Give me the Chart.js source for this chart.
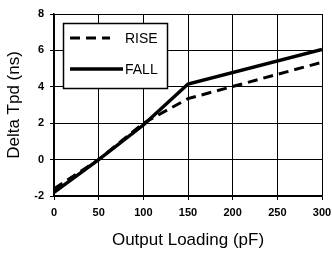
<!DOCTYPE html>
<html>
<head>
<meta charset="utf-8">
<script src="https://cdn.jsdelivr.net/npm/chart.js@4"></script>
<style>
  html, body { margin: 0; padding: 0; background: #fff; }
  #wrap { width: 332px; height: 255px; }
</style>
</head>
<body>
<div id="wrap"><canvas id="chart" width="332" height="255"></canvas></div>
<script>
// data
const loading = [0, 50, 100, 150, 300];          // pF
const rise = [-1.6, 0, 2.0, 3.35, 5.35];          // ns
const fall = [-1.8, 0, 1.9, 4.15, 6.05];          // ns
const xTicks = [0, 50, 100, 150, 200, 250, 300];
const yTicks = [-2, 0, 2, 4, 6, 8];

const pts = (ys) => loading.map((x, i) => ({ x: x, y: ys[i] }));

// legend drawn as a boxed key inside the plot, like the original
const boxLegend = {
  id: "boxLegend",
  afterDraw(chart) {
    const ctx = chart.ctx;
    ctx.save();
    ctx.fillStyle = "#fff";
    ctx.fillRect(63, 23, 104, 65);
    ctx.strokeStyle = "#000";
    ctx.lineWidth = 1.5;
    ctx.strokeRect(63.5, 23.5, 104, 65);
    chart.data.datasets.forEach((ds, i) => {
      const y = i === 0 ? 38 : 69;
      ctx.beginPath();
      ctx.setLineDash(ds.borderDash || []);
      ctx.lineWidth = ds.borderWidth;
      ctx.moveTo(70, y);
      ctx.lineTo(i === 0 ? 110 : 123, y);
      ctx.stroke();
      ctx.setLineDash([]);
      ctx.fillStyle = "#000";
      ctx.font = "14px 'Liberation Sans', Arial, sans-serif";
      ctx.textBaseline = "middle";
      ctx.fillText(ds.label, 125, y + 1);
    });
    ctx.restore();
  }
};

new Chart(document.getElementById("chart"), {
  type: "line",
  data: {
    datasets: [
      { label: "RISE", data: pts(rise), borderColor: "#000", borderWidth: 3, borderDash: [10, 6], pointRadius: 0, fill: false, tension: 0 },
      { label: "FALL", data: pts(fall), borderColor: "#000", borderWidth: 3.5, pointRadius: 0, fill: false, tension: 0 }
    ]
  },
  options: {
    responsive: false,
    animation: false,
    layout: { padding: { top: 14, right: 10, left: 0, bottom: 0 } },
    plugins: { legend: { display: false }, tooltip: { enabled: false } },
    scales: {
      x: {
        type: "linear", min: 0, max: 300,
        afterBuildTicks: (s) => { s.ticks = xTicks.map(v => ({ value: v })); },
        afterFit: (s) => { s.height = 59; s.paddingLeft = 0; s.paddingRight = 0; },
        grid: { color: "#000", lineWidth: 1, tickLength: 4 },
        border: { color: "#000", width: 1.5 },
        ticks: { color: "#000", padding: 6, font: { family: "'Liberation Sans', Arial", size: 11, weight: "bold" } },
        title: { display: true, text: "Output Loading (pF)", color: "#000", padding: { top: 5 }, font: { family: "'Liberation Sans', Arial", size: 17 } }
      },
      y: {
        type: "linear", min: -2, max: 8,
        afterBuildTicks: (s) => { s.ticks = yTicks.map(v => ({ value: v })); },
        afterFit: (s) => { s.width = 54; s.paddingTop = 0; s.paddingBottom = 0; },
        grid: { color: "#000", lineWidth: 1, tickLength: 4 },
        border: { color: "#000", width: 1.5 },
        ticks: { color: "#000", padding: 6, font: { family: "'Liberation Sans', Arial", size: 11, weight: "bold" } },
        title: { display: true, text: "Delta Tpd (ns)", color: "#000", padding: { bottom: 2 }, font: { family: "'Liberation Sans', Arial", size: 17 } }
      }
    }
  },
  plugins: [boxLegend]
});
</script>
</body>
</html>
